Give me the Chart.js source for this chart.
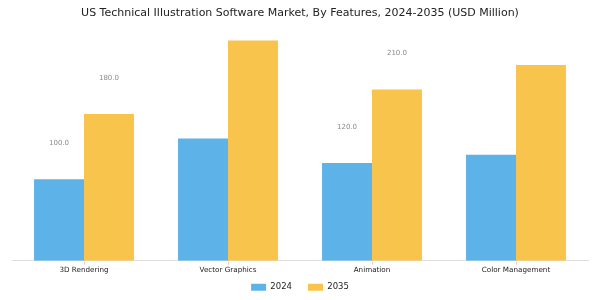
<!DOCTYPE html>
<html>
<head>
<meta charset="utf-8">
<script src="https://cdn.jsdelivr.net/npm/chart.js@4.4.0/dist/chart.umd.min.js"></script>
<style>
  html, body { margin: 0; padding: 0; background: #fff; }
  #wrap { width: 600px; height: 300px; }
</style>
</head>
<body>
<div id="wrap"><canvas id="chart"></canvas></div>
<script>
// chart data
var categories = ["3D Rendering", "Vector Graphics", "Animation", "Color Management"];
var values2024 = [100, 150, 120, 130];
var values2035 = [180, 270, 210, 240];
var seriesNames = ["2024", "2035"];
// only some categories carry a value label in the original
var showLabel = [true, false, true, false];

var blue = "#5DB3E8";
var yellow = "#F9C44B";

// draws the value labels floating above the bars
var valueLabels = {
  id: "valueLabels",
  afterDatasetsDraw: function(chart) {
    var ctx = chart.ctx;
    ctx.save();
    ctx.font = "7px 'DejaVu Sans'";
    ctx.fillStyle = "#8a8a8a";
    ctx.textAlign = "center";
    ctx.textBaseline = "middle";
    chart.data.datasets.forEach(function(ds, i) {
      var meta = chart.getDatasetMeta(i);
      meta.data.forEach(function(bar, j) {
        if (!showLabel[j]) return;
        ctx.fillText(ds.data[j].toFixed(1), bar.x, bar.y - 36);
      });
    });
    ctx.restore();
  }
};

// legend padding is wide (for item spacing), so pull the legend up a bit
var liftLegend = {
  id: "liftLegend",
  afterLayout: function(chart) {
    if (chart.legend) {
      chart.legend.top -= 8.5;
      chart.legend.bottom -= 8.5;
    }
  }
};

new Chart(document.getElementById("chart"), {
  type: "bar",
  data: {
    labels: categories,
    datasets: [
      { label: seriesNames[0], data: values2024, backgroundColor: blue },
      { label: seriesNames[1], data: values2035, backgroundColor: yellow }
    ]
  },
  options: {
    responsive: true,
    maintainAspectRatio: false,
    animation: false,
    layout: { padding: { left: 12, right: 12, top: 0, bottom: -10 } },
    datasets: { bar: { barPercentage: 1, categoryPercentage: 0.694 } },
    plugins: {
      title: {
        display: true,
        text: "US Technical Illustration Software Market, By Features, 2024-2035 (USD Million)",
        color: "#222",
        font: { family: "DejaVu Sans", size: 11, weight: "normal" },
        padding: { top: 7, bottom: 8 }
      },
      legend: {
        position: "bottom",
        labels: {
          boxWidth: 15,
          boxHeight: 7,
          padding: 16,
          color: "#222",
          font: { family: "DejaVu Sans", size: 8.5 }
        }
      },
      tooltip: { enabled: false }
    },
    scales: {
      x: {
        grid: { display: true, drawOnChartArea: false, offset: false, tickLength: 4, color: "#ddd" },
        border: { color: "#ddd" },
        ticks: { color: "#222", padding: 1, font: { family: "DejaVu Sans", size: 7.2 } }
      },
      y: { display: false, min: 0, max: 285 }
    }
  },
  plugins: [valueLabels, liftLegend]
});
</script>
</body>
</html>
